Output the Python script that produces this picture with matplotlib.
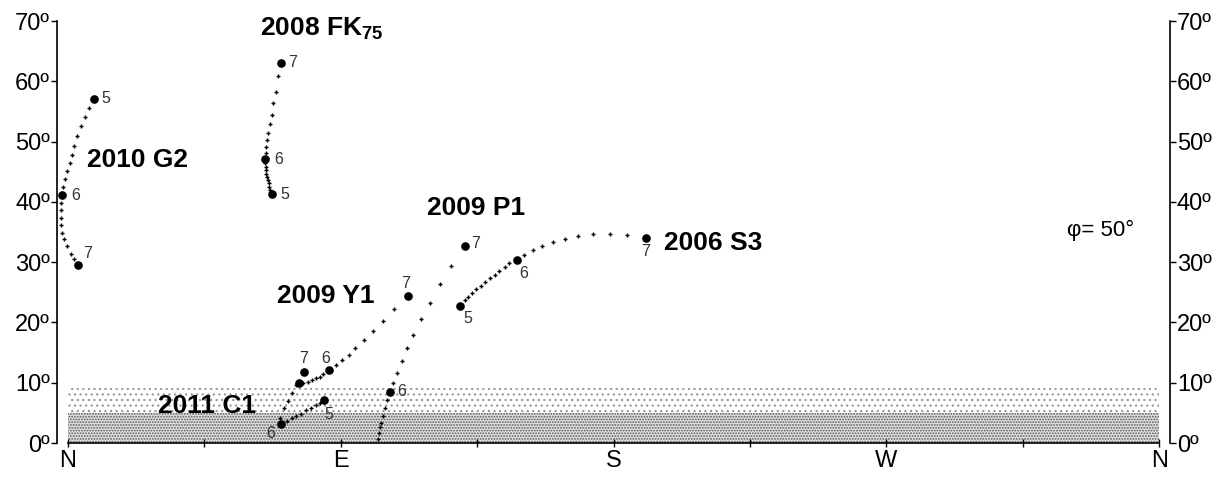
import matplotlib as mpl
import matplotlib.pyplot as plt

mpl.rcParams["font.family"] = ["Liberation Sans", "DejaVu Sans"]
mpl.rcParams["mathtext.fontset"] = "custom"
mpl.rcParams["mathtext.rm"] = "Liberation Sans:bold"
mpl.rcParams["mathtext.it"] = "Liberation Sans:bold"
mpl.rcParams["mathtext.bf"] = "Liberation Sans:bold"
mpl.rcParams["hatch.linewidth"] = 0.9

# axes
dir_pos = [0, 90, 180, 270, 360]
dir_labels = ["N", "E", "S", "W", "N"]
minor_pos = [45, 135, 225, 315]
alt_ticks = [0, 10, 20, 30, 40, 50, 60, 70]
alt_labels = ["0º", "10º", "20º", "30º", "40º", "50º", "60º", "70º"]

# horizon haze bands (altitude, deg)
band_low = 5.0
band_high = 9.2

# tracks: azimuth / altitude (deg)
g2_az = [8.6, 6.9, 5.6, 4.2, 3.1, 2.0, 1.3, 0.6, -0.3, -1.0, -1.5, -2.0,
         -2.2, -2.3, -2.3, -2.2, -1.9, -1.4, -0.3, 1.0, 2.1, 3.3]
g2_alt = [57.1, 55.6, 54.0, 52.6, 51.0, 49.3, 47.8, 46.4, 45.1, 43.8, 42.5, 41.1,
          39.8, 38.6, 37.4, 36.1, 34.9, 33.8, 32.6, 31.4, 30.5, 29.5]
g2_key_az = [8.6, -2.0, 3.3]
g2_key_alt = [57.1, 41.1, 29.5]
g2_key_lab = ["5", "6", "7"]

fk_az = [67.3, 66.8, 66.4, 66.2, 65.9, 65.7, 65.5, 65.3, 65.2, 65.1, 65.0,
         65.3, 65.5, 65.7, 66.0, 66.6, 67.3, 67.7, 68.6, 69.3, 70.2]
fk_alt = [41.3, 42.0, 42.5, 43.1, 43.6, 44.2, 44.7, 45.3, 45.8, 46.4, 47.1,
          48.1, 49.1, 50.2, 51.4, 52.9, 54.4, 56.4, 58.3, 60.8, 63.1]
fk_key_az = [67.3, 65.0, 70.2]
fk_key_alt = [41.3, 47.1, 63.1]
fk_key_lab = ["5", "6", "7"]

p1_az = [102.3, 102.7, 103.1, 103.4, 103.8, 104.5, 105.4, 106.4, 107.4, 108.6,
         110.2, 111.8, 114.0, 116.4, 119.4, 122.6, 126.4, 131.0]
p1_alt = [0.6, 1.6, 2.6, 3.4, 4.4, 5.8, 7.1, 8.5, 10.0, 11.6,
          13.6, 15.7, 17.9, 20.5, 23.2, 26.4, 29.3, 32.7]
p1_key_az = [106.4, 131.0]
p1_key_alt = [8.5, 32.7]
p1_key_lab = ["6", "7"]

s3_az = [129.5, 130.9, 132.0, 133.3, 134.6, 136.2, 137.7, 139.2, 140.8, 142.3, 144.1,
         145.6, 148.0, 150.5, 153.4, 156.5, 160.1, 163.9, 168.4, 173.4, 178.8, 184.4, 190.6]
s3_alt = [22.8, 23.7, 24.3, 24.9, 25.5, 26.1, 26.7, 27.4, 27.9, 28.6, 29.2,
          29.8, 30.4, 31.2, 32.0, 32.7, 33.3, 33.8, 34.3, 34.7, 34.7, 34.5, 34.0]
s3_key_az = [129.5, 148.0, 190.6]
s3_key_alt = [22.8, 30.4, 34.0]
s3_key_lab = ["5", "6", "7"]

y1_az = [76.3, 77.7, 79.1, 80.4, 81.8, 83.1, 84.3, 86.0, 88.6, 90.4, 92.6,
         94.8, 97.7, 100.7, 104.0, 107.6, 112.2]
y1_alt = [9.9, 10.0, 10.2, 10.5, 10.7, 11.0, 11.5, 12.1, 12.9, 13.7, 14.6,
          15.8, 17.1, 18.6, 20.3, 22.2, 24.4]
y1_key_az = [76.3, 86.0, 112.2]
y1_key_alt = [9.9, 12.1, 24.4]
y1_key_lab = ["", "6", "7"]

c1_az = [84.6, 83.3, 81.8, 80.2, 78.7, 76.9, 75.4, 73.9, 72.3, 70.3,
         70.1, 71.2, 72.5, 73.9, 75.4, 77.9]
c1_alt = [7.2, 6.7, 6.3, 5.8, 5.4, 4.8, 4.4, 4.1, 3.6, 3.2,
          4.1, 5.8, 6.9, 8.3, 9.6, 11.8]
c1_key_az = [84.6, 70.3, 77.9]
c1_key_alt = [7.2, 3.2, 11.8]
c1_key_lab = ["5", "6", "7"]

# label offsets of the month numbers, in pixels (dx, dy up)
offsets = {
    "g2": [(12, 0), (14, 0), (10, 12)],
    "fk": [(13, 0), (14, 0), (12, 0)],
    "p1": [(11, 0), (11, 2)],
    "s3": [(7, -13), (7, -14), (0, -13)],
    "y1": [(0, 0), (-3, 12), (-2, 12)],
    "c1": [(4, -15), (-10, -10), (0, 13)],
}

comets = [
    ("g2", g2_az, g2_alt, g2_key_az, g2_key_alt, g2_key_lab),
    ("fk", fk_az, fk_alt, fk_key_az, fk_key_alt, fk_key_lab),
    ("p1", p1_az, p1_alt, p1_key_az, p1_key_alt, p1_key_lab),
    ("s3", s3_az, s3_alt, s3_key_az, s3_key_alt, s3_key_lab),
    ("y1", y1_az, y1_alt, y1_key_az, y1_key_alt, y1_key_lab),
    ("c1", c1_az, c1_alt, c1_key_az, c1_key_alt, c1_key_lab),
]

fig = plt.figure(figsize=(12.27, 4.8), dpi=100)
ax = fig.add_axes([57 / 1227, 37 / 480, 1113 / 1227, 422 / 480])

# haze bands near horizon
ax.fill_between([0, 360], 0, band_low, facecolor="#e0e0e0", edgecolor="#5a5a5a",
                hatch="......", linewidth=0, zorder=0)
ax.fill_between([0, 360], band_low, band_high, facecolor="none", edgecolor="#9a9a9a",
                hatch="...", linewidth=0, zorder=0)

for key, az, alt, kaz, kalt, klab in comets:
    ax.plot(az, alt, ls="none", marker="+", ms=3.4, mew=1.0, color="k", zorder=3)
    ax.plot(kaz, kalt, ls="none", marker="o", ms=5.2, color="k", zorder=4)
    for (x, y, lab, (dx, dy)) in zip(kaz, kalt, klab, offsets[key]):
        if lab:
            ax.annotate(lab, (x, y), xytext=(dx * 0.72, dy * 0.72),
                        textcoords="offset points", ha="center", va="center",
                        fontsize=11.5, color="#333333")

name_kw = dict(fontsize=19, fontweight="bold", ha="left", va="center")
ax.text(6.3, 47.0, "2010 G2", **name_kw)
ax.text(63.3, 68.7, "2008 FK$_{75}$", **name_kw)
ax.text(118.4, 39.0, "2009 P1", **name_kw)
ax.text(196.8, 33.2, "2006 S3", **name_kw)
ax.text(68.9, 24.4, "2009 Y1", **name_kw)
ax.text(29.7, 6.1, "2011 C1", **name_kw)
ax.text(329.7, 35.3, "φ= 50°", fontsize=16, ha="left", va="center")

ax.set_xlim(-3.6, 363.6)
ax.set_ylim(0, 70)
ax.spines["top"].set_visible(False)
ax.spines["bottom"].set_bounds(0, 360)
for s in ["left", "right", "bottom"]:
    ax.spines[s].set_linewidth(1.2)

ax.set_xticks(dir_pos)
ax.set_xticklabels(dir_labels, fontsize=17)
ax.set_xticks(minor_pos, minor=True)
ax.set_yticks(alt_ticks)
ax.set_yticklabels(alt_labels, fontsize=17)
ax.tick_params(axis="x", which="both", direction="inout", length=6, width=1, pad=2)
ax.tick_params(axis="y", which="both", direction="out", length=4, width=1, pad=1,
               right=True, labelright=True)

plt.savefig("out.png", dpi=100)
plt.close()
